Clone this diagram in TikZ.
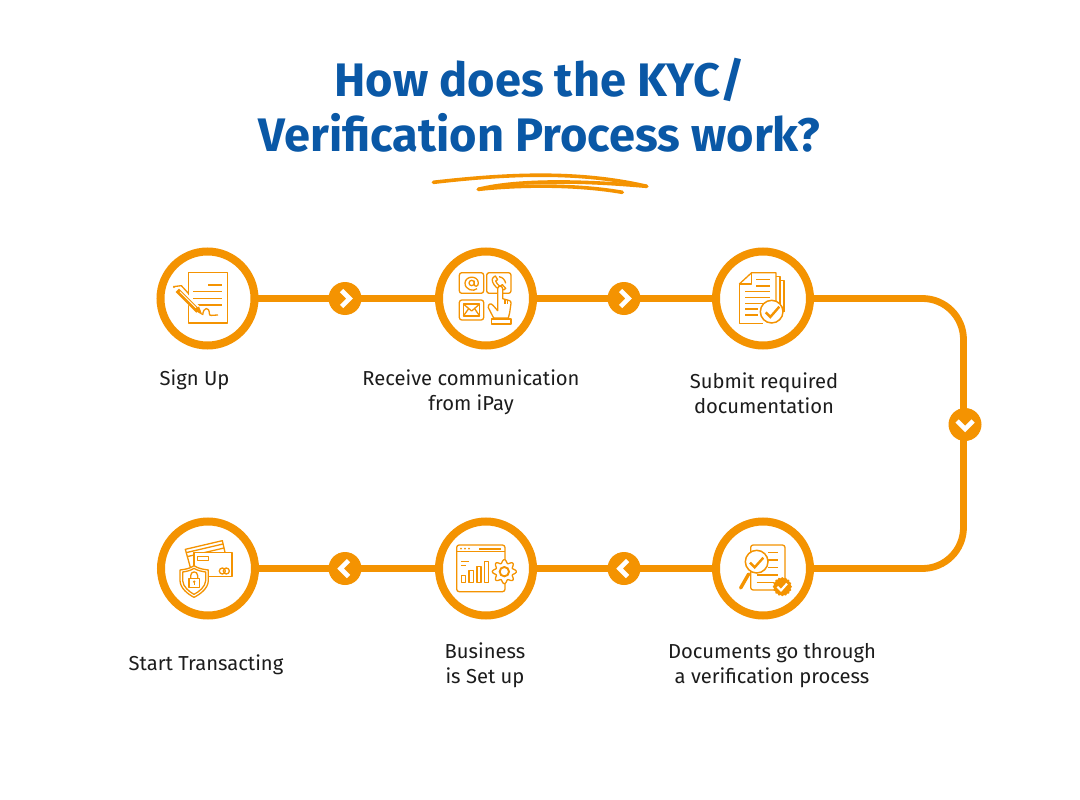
\documentclass[tikz,border=0pt]{standalone}
\usepackage{fontspec}
\setmainfont{Fira Sans}
\definecolor{orng}{HTML}{F49301}
\definecolor{ttl}{HTML}{0A58A6}
\definecolor{lbl}{HTML}{1C1C1C}
\tikzset{
  ring/.style={circle,draw=orng,line width=8pt,fill=white,minimum size=94pt,inner sep=0pt},
  badge/.style={circle,fill=orng,minimum size=33pt,inner sep=0pt},
  link/.style={draw=orng,line width=6.8pt,shorten <=-2pt,shorten >=-2pt},
  chev/.style={draw=white,line width=4.6pt,line join=miter},
  ico/.style={draw=orng,line width=1.3pt,line join=round},
  icob/.style={draw=orng,line width=1.5pt,line join=round},
  lab/.style={text=lbl,font=\fontsize{20.2}{24.5}\selectfont,align=center,inner sep=0pt},
  head/.style={text=ttl,font=\fontsize{47}{55}\selectfont\bfseries,align=center,inner sep=0pt},
  zoomed/.style={x=0.33333pt,y=-0.33333pt}
}
\begin{document}
\begin{tikzpicture}[x=1pt,y=-1pt]
\useasboundingbox (0,0) rectangle (1080,800);
\fill[white] (0,0) rectangle (1080,800);

\node[head] (title) at (539.5,105.5) {How does the KYC/\\Verification Process work?};

% scribble
\begin{scope}[shift={(420,165)},zoomed]
\draw[orng,line width=3.6pt,line cap=round] (40,52) .. controls (250,28) and (470,15) .. (680,64);
\draw[orng,line width=3.6pt,line cap=round] (680,64) .. controls (500,48) and (300,42) .. (175,73);
\draw[orng,line width=3.6pt,line cap=round] (175,73) .. controls (320,58) and (480,60) .. (607,82);
\end{scope}

% step rings
\node[ring] (s1) at (207.5,298.5) {};
\node[ring] (s2) at (486,298.5) {};
\node[ring] (s3) at (763,298.5) {};
\node[ring] (s4) at (763,568.5) {};
\node[ring] (s5) at (486,568.5) {};
\node[ring] (s6) at (208,568.5) {};

% arrow badges
\node[badge] (a1) at (345,298.5) {};
\node[badge] (a2) at (624,298.5) {};
\node[badge] (a3) at (965,424.5) {};
\node[badge] (a4) at (624,568.5) {};
\node[badge] (a5) at (345,568.5) {};
\coordinate (c1) at (963.5,298.5);
\coordinate (c2) at (963.5,568.5);

% connectors
\draw[link] (s1) -- (a1);
\draw[link] (a1) -- (s2);
\draw[link] (s2) -- (a2);
\draw[link] (a2) -- (s3);
\draw[link,rounded corners=41pt] (s3.east) -- (c1) -- (c1 |- a3.center);
\draw[link,rounded corners=41pt] (c1 |- a3.center) -- (c2) -- (s4.east);
\draw[link] (s4) -- (a4);
\draw[link] (a4) -- (s5);
\draw[link] (s5) -- (a5);
\draw[link] (a5) -- (s6);

% chevrons
\draw[chev] ([shift={(-3.5,-8)}]a1.center) -- ([shift={(4.5,0)}]a1.center) -- ([shift={(-3.5,8)}]a1.center);
\draw[chev] ([shift={(-3.5,-8)}]a2.center) -- ([shift={(4.5,0)}]a2.center) -- ([shift={(-3.5,8)}]a2.center);
\draw[chev] ([shift={(-8,-3.5)}]a3.center) -- ([shift={(0,4.5)}]a3.center) -- ([shift={(8,-3.5)}]a3.center);
\draw[chev] ([shift={(3.5,-8)}]a4.center) -- ([shift={(-4.5,0)}]a4.center) -- ([shift={(3.5,8)}]a4.center);
\draw[chev] ([shift={(3.5,-8)}]a5.center) -- ([shift={(-4.5,0)}]a5.center) -- ([shift={(3.5,8)}]a5.center);

% icon 1: signed document
\begin{scope}[shift={(140,235)},zoomed]
\draw[ico,line width=1.5pt] (145,112) rectangle (262,264);
\draw[icob] (205,150) -- (246,150);
\draw[icob] (160,170) -- (246,170);
\draw[icob] (160,190) -- (246,190);
\draw[icob] (160,210) -- (246,210);
\draw[ico] (188,240) .. controls (190,215) and (208,215) .. (208,235) .. controls (208,245) and (215,240) .. (234,240);
\draw[white,line width=7pt] (108,158) -- (178,228);
\draw[orng,line width=4.6pt] (112,166) -- (174,228);
\draw[white,line width=.9pt] (120,170) -- (168,218);
\fill[orng] (164,226) -- (177,214) -- (187,240) -- cycle;
\draw[ico] (100,155) -- (124,152) -- (146,176);
\fill[orng] (102,156) circle (3.5);
\end{scope}

% icon 2: communication
\begin{scope}[shift={(425,240)},zoomed]
\draw[ico,rounded corners=2.5pt] (103,98) rectangle (176,160);
\draw[ico,rounded corners=2.5pt] (185,98) rectangle (258,160);
\draw[ico,rounded corners=2.5pt] (103,180) rectangle (176,240);
\draw[ico] (115,192) rectangle (164,228);
\draw[ico] (115,192) -- (140,213) -- (164,192);
\draw[ico] (115,228) -- (131,206);
\draw[ico] (164,228) -- (149,206);
% at sign
\draw[ico] (140,129) circle (8);
\draw[ico] (148,122) -- (148,134) .. controls (149,142) and (161,140) .. (160,128)
  .. controls (158,105) and (121,107) .. (120,129) .. controls (120,150) and (146,156) .. (156,146);
% handset
\draw[ico,fill=white] (205,112) .. controls (197,118) and (204,133) .. (214,142)
  .. controls (224,151) and (238,153) .. (242,145) -- (232,134) -- (225,139)
  .. controls (219,135) and (214,129) .. (212,123) -- (218,119) -- (211,108) -- cycle;
\draw[ico] (222,110) .. controls (234,112) and (240,120) .. (242,130);
% hand
\draw[ico,fill=white] (206,234) -- (190,203) .. controls (188,192) and (198,188) .. (204,196)
  -- (218,212) -- (218,146) .. controls (218,136) and (233,136) .. (233,146)
  -- (233,176) -- (254,182) .. controls (257,183) and (258,186) .. (258,190)
  -- (254,218) -- (250,234) -- cycle;
\draw[ico] (240,178) -- (240,192);
\draw[ico] (248,180) -- (248,192);
\draw[ico] (200,237) rectangle (258,252);
\end{scope}

% icon 3: documents and tick
\begin{scope}[shift={(700,240)},zoomed]
\draw[ico] (228,110) -- (240,110) -- (240,225);
\draw[ico] (240,122) -- (252,122) -- (252,215);
\draw[ico,fill=white] (118,132) -- (155,98) -- (228,98) -- (228,190);
\draw[ico] (118,132) -- (118,250) -- (190,250);
\draw[ico] (118,132) -- (155,132) -- (155,98);
\foreach \yy/\xa/\xb in {118/168/210,138/168/210,155/135/210,172/135/210,190/135/190,207/135/175,225/135/175}
  \draw[icob] (\xa,\yy) -- (\xb,\yy);
\draw[orng,fill=white,line width=1.5pt] (215,215) circle (34);
\draw[orng,line width=2.4pt] (197,217) -- (211,231) -- (238,200);
\end{scope}

% icon 4: review
\begin{scope}[shift={(700,510)},zoomed]
\draw[ico,rounded corners=2.5pt] (152,105) rectangle (255,240);
\foreach \yy/\xa/\xb in {128/205/235,150/205/235,172/205/235,195/170/235,218/170/222}
  \draw[icob] (\xa,\yy) -- (\xb,\yy);
\draw[orng,line width=3.4pt,line cap=round] (146,192) -- (122,234);
\draw[orng,fill=white,line width=1.5pt] (170,155) circle (34);
\draw[orng,line width=2.4pt] (150,158) -- (164,172) -- (190,143);
\begin{scope}[shift={(247,230)}]
\fill[orng] plot[domain=0:360,samples=121] (\x:{27+1.6*cos(16*\x)}) -- cycle;
\end{scope}
\draw[white,line width=2.2pt] (232,230) -- (243,241) -- (261,221);
\end{scope}

% icon 5: dashboard and gear
\begin{scope}[shift={(425,510)},zoomed]
\draw[ico,rounded corners=2.5pt] (95,105) rectangle (240,245);
\draw[ico] (95,125) -- (240,125);
\fill[orng] (108,116) circle (3) (120,116) circle (3) (132,116) circle (3);
\draw[orng,line width=1.8pt] (162,116) -- (228,116);
\draw[orng,line width=1.3pt] (108,154) -- (133,154);
\draw[orng,line width=1.3pt] (108,167) -- (122,167);
\draw[ico] (110,197) rectangle (122,217);
\draw[ico] (132,182) rectangle (146,217);
\draw[ico] (156,170) rectangle (168,217);
\draw[ico] (178,155) rectangle (191,217);
\begin{scope}[shift={(238,185)}]
\draw[ico,fill=white] plot[domain=0:360,samples=121] (\x:{31+5*cos(8*\x)}) -- cycle;
\draw[orng,line width=1.9pt] (0,0) circle (14);
\end{scope}
\end{scope}

% icon 6: cards and shield
\begin{scope}[shift={(145,510)},zoomed]
\draw[ico] (136,172) -- (121,118) -- (232,92) -- (240,127);
\draw[ico] (123,128) -- (234,102);
\draw[ico] (126,140) -- (237,114);
\draw[ico,fill=white] (147,127) rectangle (261,200);
\draw[ico] (158,140) rectangle (190,152);
\draw[ico] (232,183) circle (9);
\draw[ico] (244,183) circle (9);
\draw[ico,fill=white] (147,167) .. controls (135,176) and (120,178) .. (105,180)
  -- (105,212) .. controls (106,235) and (128,252) .. (147,262)
  .. controls (167,252) and (189,235) .. (190,212) -- (190,180)
  .. controls (175,178) and (160,176) .. (147,167) -- cycle;
\draw[ico] (147,175) .. controls (137,182) and (125,184) .. (113,186)
  -- (113,212) .. controls (114,230) and (132,245) .. (147,253)
  .. controls (163,245) and (181,230) .. (182,212) -- (182,186)
  .. controls (170,184) and (158,182) .. (147,175) -- cycle;
\draw[ico] (132,205) rectangle (163,232);
\draw[ico] (137,205) -- (137,197) .. controls (137,182) and (158,182) .. (158,197) -- (158,205);
\fill[orng] (147.5,215) circle (4);
\draw[orng,line width=1.2pt] (147.5,215) -- (147.5,226);
\end{scope}

% labels
\node[lab] (t1) at (194.5,380) {Sign Up};
\node[lab] (t2) at (471,392.5) {Receive communication\\from iPay};
\node[lab] (t3) at (764,393) {Submit required\\documentation};
\node[lab] (t4) at (772,665.5) {Documents go through\\a verification process};
\node[lab] (t5) at (485,665.5) {Business\\is Set up};
\node[lab] (t6) at (206,665) {Start Transacting};
\end{tikzpicture}
\end{document}
